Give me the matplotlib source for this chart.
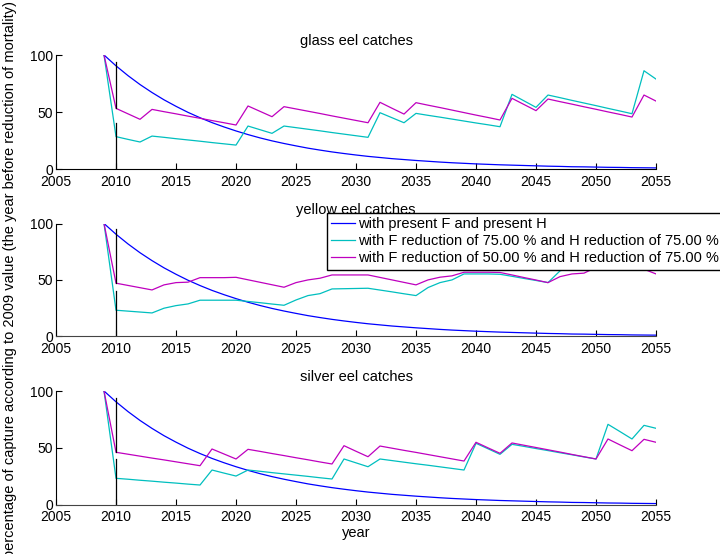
import matplotlib
matplotlib.use('Agg')
import matplotlib.pyplot as plt

plt.rcParams['font.family'] = ['Liberation Sans', 'DejaVu Sans']
plt.rcParams['font.size'] = 10

years = list(range(2009, 2056))

# catches relative to 2009 (%), same baseline for the three stages
present = [100, 90.5, 81.9, 74.1, 67.1, 60.7, 55.0, 49.7, 45.0, 40.7,
           36.9, 33.4, 30.2, 27.3, 24.7, 22.4, 20.3, 18.3, 16.6, 15.0,
           13.6, 12.3, 11.1, 10.1, 9.1, 8.3, 7.5, 6.8, 6.1, 5.5,
           5.0, 4.5, 4.1, 3.7, 3.4, 3.1, 2.8, 2.5, 2.3, 2.0,
           1.9, 1.7, 1.5, 1.4, 1.2, 1.1, 1.0]

glass_75 = [100, 28.4, 26.0, 23.7, 28.9, 27.8, 26.6, 25.5, 24.4, 23.2,
            22.1, 21.0, 37.7, 34.5, 31.3, 37.7, 36.3, 34.9, 33.5, 32.0,
            30.6, 29.2, 27.8, 49.4, 45.0, 40.6, 48.8, 47.1, 45.5, 43.8,
            42.1, 40.4, 38.8, 37.1, 65.5, 59.8, 54.1, 64.9, 62.6, 60.2,
            57.9, 55.6, 53.2, 50.9, 48.5, 86.2, 78.9]
glass_50 = [100, 53.2, 48.4, 43.6, 52.3, 50.3, 48.4, 46.4, 44.5, 42.5,
            40.6, 38.6, 55.3, 50.6, 45.9, 54.7, 52.7, 50.7, 48.7, 46.6,
            44.6, 42.6, 40.6, 58.5, 53.3, 48.2, 58.2, 56.0, 53.9, 51.7,
            49.5, 47.3, 45.2, 43.0, 62.0, 56.6, 51.2, 61.4, 59.1, 56.9,
            54.6, 52.4, 50.1, 47.9, 45.6, 64.9, 59.6]

yellow_75 = [100, 23.1, 22.3, 21.5, 20.7, 24.9, 27.2, 28.7, 32.0, 32.0,
             32.0, 32.0, 30.9, 29.8, 28.6, 27.5, 32.2, 36.1, 37.8, 42.0,
             42.2, 42.4, 42.6, 41.0, 39.4, 37.7, 36.1, 43.2, 47.6, 50.0,
             55.3, 55.3, 55.3, 55.0, 53.2, 51.3, 49.5, 47.6, 58.0, 61.5,
             62.5, 63.0, 64.0, 64.5, 65.0, 66.0, 65.0]
yellow_50 = [100, 47.1, 45.1, 43.1, 41.1, 45.6, 47.6, 48.0, 52.0, 52.0,
             52.0, 52.3, 50.1, 47.9, 45.7, 43.5, 47.6, 50.0, 51.5, 54.4,
             54.4, 54.4, 54.4, 52.2, 50.0, 47.8, 45.6, 50.0, 52.4, 53.6,
             56.8, 56.8, 56.8, 56.6, 54.4, 52.1, 49.9, 47.6, 52.9, 55.3,
             56.0, 61.0, 62.0, 62.0, 62.0, 59.5, 55.3]

silver_75 = [100, 23.2, 22.4, 21.5, 20.7, 19.8, 19.0, 18.1, 17.3, 30.5,
             27.8, 25.2, 30.5, 29.4, 28.2, 27.1, 26.0, 24.9, 23.7, 22.6,
             40.2, 36.8, 33.4, 40.2, 38.8, 37.4, 36.0, 34.7, 33.3, 31.9,
             30.5, 54.0, 49.2, 44.3, 53.1, 51.3, 49.4, 47.6, 45.7, 43.9,
             42.0, 40.2, 70.7, 64.3, 57.8, 69.8, 67.2]
silver_50 = [100, 46.1, 44.4, 42.7, 41.0, 39.4, 37.7, 36.0, 34.3, 49.0,
             44.6, 40.2, 48.7, 46.9, 45.0, 43.2, 41.3, 39.5, 37.6, 35.8,
             51.9, 47.0, 42.2, 51.6, 49.7, 47.8, 46.0, 44.1, 42.2, 40.3,
             38.4, 54.9, 50.0, 45.2, 54.3, 52.3, 50.3, 48.3, 46.3, 44.2,
             42.2, 40.2, 57.8, 52.6, 47.5, 57.5, 54.9]

titles = ['glass eel catches', 'yellow eel catches', 'silver eel catches']
labels = ['with present F and present H',
          'with F reduction of 75.00 % and H reduction of 75.00 %',
          'with F reduction of 50.00 % and H reduction of 75.00 %']

# black marks at the first reduction year
mark_year = 2010
mark_top = [94, 95, 94]
mark_low = 40

panels = [(glass_75, glass_50), (yellow_75, yellow_50), (silver_75, silver_50)]
bottoms = [0.6949, 0.3930, 0.0890]
heights = [0.2058, 0.2035, 0.2052]

blue = '#0000ff'
cyan = '#00bfbf'
magenta = '#bf00bf'

fig = plt.figure(figsize=(7.2, 5.54), dpi=100)

axes = []
for i, (r75, r50) in enumerate(panels):
    ax = fig.add_axes([0.0778, bottoms[i], 0.8333, heights[i]])
    l1, = ax.plot(years, present, color=blue, lw=0.9, label=labels[0])
    l2, = ax.plot(years, r75, color=cyan, lw=0.9, label=labels[1])
    l3, = ax.plot(years, r50, color=magenta, lw=0.9, label=labels[2])
    ax.plot([mark_year, mark_year], [r50[1], mark_top[i]], color='k', lw=0.9)
    ax.plot([mark_year, mark_year], [0, mark_low], color='k', lw=0.9)

    ax.set_xlim(2005, 2055)
    ax.set_ylim(0, 100)
    ax.set_xticks(range(2005, 2056, 5))
    ax.set_yticks([0, 50, 100])
    ax.spines['top'].set_visible(False)
    ax.spines['right'].set_visible(False)
    ax.spines['left'].set_linewidth(0.8)
    ax.spines['bottom'].set_linewidth(0.8)
    if i > 0:
        ax.spines['bottom'].set_color('#444444')
    ax.tick_params(direction='in', length=4, width=0.8, labelsize=10)
    ax.tick_params(axis='x', pad=4)
    ax.tick_params(axis='y', pad=2)
    ax.set_title(titles[i], fontsize=10.5, pad=7)
    axes.append(ax)

leg = axes[1].legend(handles=[l1, l2, l3], loc='upper left',
                     bbox_to_anchor=(327 / 720, 1 - 213 / 554),
                     bbox_transform=fig.transFigure, fontsize=10.5,
                     fancybox=False, framealpha=1, edgecolor='black',
                     borderpad=0.3, labelspacing=0.2, handlelength=1.65,
                     handletextpad=0.15, borderaxespad=0)
leg.get_frame().set_linewidth(1.0)
leg.set_zorder(10)

axes[2].set_xlabel('year', fontsize=10.5, labelpad=1)
fig.text(10 / 720, 1 - 280 / 554,
         'percentage of capture according to 2009 value (the year before reduction of mortality)',
         rotation=90, ha='center', va='center', fontsize=10.5)

fig.savefig('out.png', dpi=100)
